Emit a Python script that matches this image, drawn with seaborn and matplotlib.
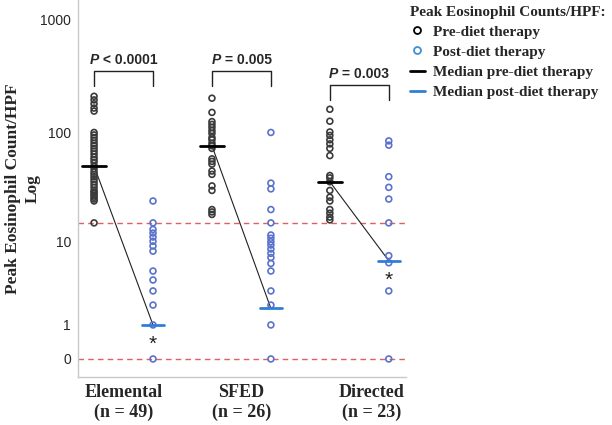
import matplotlib
matplotlib.use("Agg")
import matplotlib.pyplot as plt
import numpy as np
import pandas as pd
import seaborn as sns
from matplotlib.lines import Line2D
from matplotlib.offsetbox import TextArea, HPacker, AnnotationBbox

# Data (peak eosinophils/HPF, visible points only)
diets = ["Elemental\n(n = 49)", "SFED\n(n = 26)", "Directed\n(n = 23)"]
elemental_pre = [210, 195, 180, 165, 155, 100, 95, 90, 85, 80, 76, 72, 68, 64, 60,
                 57, 54, 50, 47, 44, 42, 40, 38, 36, 34, 32, 30, 29, 28, 27, 26, 25, 24, 15]
elemental_post = [24, 15, 13, 12, 11, 10, 9, 8, 5, 4, 3, 2, 1, 0]
sfed_pre = [202, 151, 125, 118, 111, 104, 98, 90, 86, 80, 76, 72, 58, 55, 52, 45, 42,
            33, 30, 20, 19, 18]
sfed_post = [100, 35, 31, 20, 15, 11.5, 10.7, 9.9, 9.2, 8.4, 7.6, 6.9, 6.0, 5.0, 3.0, 2.0, 1.0, 0]
directed_pre = [161, 126, 101, 94, 86, 79, 72, 62, 41, 39, 36, 30, 26, 24, 20, 18.5, 17, 16]
directed_post = [84, 77, 40, 32, 25, 15, 7.2, 6.1, 3, 0]
median_pre = [50, 76, 36]
median_post = [1, 1.8, 6.4]
p_labels = ["< 0.0001", "= 0.005", "= 0.003"]
star_groups = [0, 2]
cutoff = [15, 0]

# layout
offset = 0.25
bracket_top = [350, 350, 265]
bracket_bottom = [260, 260, 195]
label_shift = [0, 0, 9]  # points, Directed label sits a bit to the right
pre_color = "#3a3a3a"
post_color = "#5a72cc"
post_legend_color = "#3f8fd2"
median_post_color = "#2f7fd6"
serif = ["Liberation Serif", "DejaVu Serif"]
sans = ["Liberation Sans", "DejaVu Sans"]

pre_lists = [elemental_pre, sfed_pre, directed_pre]
post_lists = [elemental_post, sfed_post, directed_post]
rows = []
for i in range(len(diets)):
    for v in pre_lists[i]:
        rows.append({"x": i - offset, "count": v, "phase": "pre"})
    for v in post_lists[i]:
        rows.append({"x": i + offset, "count": v, "phase": "post"})
df = pd.DataFrame(rows)

sns.set_style("white")
fig = plt.figure(figsize=(6.12, 4.25), dpi=100)
ax = fig.add_axes([0.1275, 0.113, 0.5355, 0.887])


def fwd(v):
    return np.log10(np.maximum(v, -0.999) + 1)


def inv(t):
    return 10 ** t - 1


ax.set_yscale("function", functions=(fwd, inv))

# cut-off lines
for c in cutoff:
    ax.axhline(c, color="#e06060", lw=1, ls=(0, (4, 3)), zorder=1)

for phase, col in [("pre", pre_color), ("post", post_color)]:
    sub = df[df["phase"] == phase]
    sns.scatterplot(data=sub, x="x", y="count", ax=ax, color=col, facecolor="none",
                    edgecolor=col, linewidth=1.2, s=18, zorder=3, legend=False)

for i in range(len(diets)):
    ax.plot([i - offset - 0.1, i - offset + 0.1], [median_pre[i]] * 2, color="black", lw=2, zorder=4)
    ax.plot([i + offset - 0.095, i + offset + 0.095], [median_post[i]] * 2, color=median_post_color,
            lw=2, zorder=4)
    ax.plot([i - offset, i + offset], [median_pre[i], median_post[i]], color="#222222", lw=0.8, zorder=2)

    # p-value bracket
    ax.plot([i - offset, i - offset, i + offset, i + offset],
            [bracket_bottom[i], bracket_top[i], bracket_top[i], bracket_bottom[i]],
            color="#222222", lw=1, zorder=2)
    txt = HPacker(children=[
        TextArea("P", textprops=dict(fontstyle="italic", fontweight="bold", fontsize=10, family=sans)),
        TextArea(" " + p_labels[i], textprops=dict(fontweight="bold", fontsize=10, family=sans)),
    ], align="baseline", pad=0, sep=0)
    ab = AnnotationBbox(txt, (i, bracket_top[i]), xybox=(0, 3), xycoords="data",
                        boxcoords="offset points", box_alignment=(0.5, 0), frameon=False)
    ax.add_artist(ab)

    # category label under the axis
    ax.annotate(diets[i], (i, 0), xycoords=ax.get_xaxis_transform(), xytext=(label_shift[i], -5),
                textcoords="offset points", ha="center", va="top", family=serif,
                fontweight="bold", fontsize=13, linespacing=1.2, annotation_clip=False)

for i in star_groups:
    ax.annotate("*", (i + offset, median_post[i]), xytext=(0, -14), textcoords="offset points",
                ha="center", va="center", fontsize=15, family=sans, color="#222222")

ax.set_ylim(-0.307, 1500)
ax.set_xlim(-0.386, 2.394)
ax.set_yticks([0, 1, 10, 100, 1000])
ax.set_yticklabels(["0", "1", "10", "100", "1000"], family=sans, fontsize=10)
ax.set_xticks([])
ax.tick_params(axis="y", length=4, width=0.8, color="#555555", pad=1)
ax.set_xlabel("")
ax.set_ylabel("Peak Eosinophil Count/HPF\nLog", family=serif, fontweight="bold", fontsize=12.5,
              linespacing=1.3, labelpad=0)
for s in ["top", "right"]:
    ax.spines[s].set_visible(False)
for s in ["left", "bottom"]:
    ax.spines[s].set_color("#c8c8c8")
    ax.spines[s].set_linewidth(1)

handles = [
    Line2D([], [], ls="none", marker="o", mfc="none", mec="black", mew=1.3, ms=5),
    Line2D([], [], ls="none", marker="o", mfc="none", mec=post_legend_color, mew=1.3, ms=5),
    Line2D([], [], color="black", lw=2),
    Line2D([], [], color=median_post_color, lw=2),
]
labels = ["Pre-diet therapy", "Post-diet therapy", "Median pre-diet therapy",
          "Median post-diet therapy"]
leg = fig.legend(handles, labels, loc="upper left", bbox_to_anchor=(0.652, 1.012),
                 frameon=False, title="Peak Eosinophil Counts/HPF:", alignment="left",
                 prop=dict(family=serif, weight="bold", size=11), handlelength=1.0,
                 handletextpad=0.5, labelspacing=0.42, borderpad=0.2)
leg.get_title().set_fontproperties(dict(family=serif, weight="bold", size=11))

fig.savefig("out.png", dpi=100)
